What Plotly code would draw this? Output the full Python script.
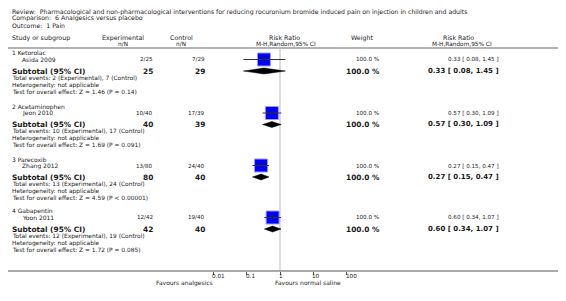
import math
import plotly.graph_objects as go

# ---------------- data ----------------
groups = ["1 Ketorolac", "2 Acetaminophen", "3 Parecoxib", "4 Gabapentin"]
studies = ["Asida 2009", "Jeon 2010", "Zhang 2012", "Yoon 2011"]
exp_events = [2, 10, 13, 12]
exp_total = [25, 40, 80, 42]
ctl_events = [7, 17, 24, 19]
ctl_total = [29, 39, 40, 40]
rr = [0.33, 0.57, 0.27, 0.60]
rr_lo = [0.08, 0.30, 0.15, 0.34]
rr_hi = [1.45, 1.09, 0.47, 1.07]
weights = [100.0, 100.0, 100.0, 100.0]
z_vals = [1.46, 1.69, 4.59, 1.72]
p_text = ["P = 0.14", "P = 0.091", "P < 0.00001", "P = 0.085"]
null_value = 1
tick_vals = [0.01, 0.1, 1, 10, 100]
tick_text = ["0.01", "0.1", "1", "10", "100"]

title_lines = [
    "Review:  Pharmacological and non-pharmacological interventions for reducing rocuronium bromide induced pain on injection in children and adults",
    "Comparison:  6 Analgesics versus placebo",
    "Outcome:  1 Pain",
]

# ---------------- layout helpers ----------------
W, H = 566, 301
OFF = 8  # page body margin
FONT = "DejaVu Sans"
TXT = "#1a1a1a"

group_y = [53, 106.5, 159, 211]
off_study, off_sub, off_tot, off_het, off_test = 6.5, 18.0, 25.3, 32.0, 38.5
AXIS_Y = 271
HEAD_LINE_Y = 48

ax_left, ax_right = 213.3, 346.7

def px(x):
    return (x - OFF) / W

def py(y):
    return 1 - (y - OFF) / H

def yv(y):
    return y - OFF

annotations = []

def txt(x, y, s, size=6, bold=False, anchor="left", color=TXT):
    if bold:
        s = "<b>" + s + "</b>"
    annotations.append(dict(
        x=px(x), y=py(y), xref="paper", yref="paper", text=s, showarrow=False,
        xanchor=anchor, yanchor="middle", align=anchor, borderpad=0, borderwidth=0,
        font=dict(family=FONT, size=size, color=color),
    ))

for i, line in enumerate(title_lines):
    txt(12, 11.5 + i * 7.0, line, size=6.2)

txt(12, 38, "Study or subgroup", size=6.3)
txt(122.5, 38, "Experimental", size=6.3, anchor="center")
txt(122.5, 44, "n/N", size=5.8, anchor="center")
txt(181, 38, "Control", size=6.3, anchor="center")
txt(180.5, 44, "n/N", size=5.8, anchor="center")
txt(284, 38, "Risk Ratio", size=6.3, anchor="center")
txt(286, 44, "M-H,Random,95% CI", size=5.8, anchor="center")
txt(362, 38, "Weight", size=6.3, anchor="center")
txt(458, 38, "Risk Ratio", size=6.3, anchor="center")
txt(462, 44, "M-H,Random,95% CI", size=5.8, anchor="center")

fig = go.Figure()

# null line (below everything)
fig.add_trace(go.Scatter(
    x=[null_value, null_value], y=[yv(HEAD_LINE_Y + 1), yv(AXIS_Y)], mode="lines",
    line=dict(color="#dddddd", width=2), hoverinfo="skip", showlegend=False))

for i in range(len(groups)):
    g = group_y[i]
    ys, ysub = g + off_study, g + off_sub
    txt(12, g, groups[i], size=6)
    txt(22, ys, studies[i], size=6)
    txt(153, ys, f"{exp_events[i]}/{exp_total[i]}", size=5.6, anchor="right")
    txt(205, ys, f"{ctl_events[i]}/{ctl_total[i]}", size=5.6, anchor="right")
    txt(379, ys, f"{weights[i]:.1f} %", size=5.6, anchor="right")
    txt(499, ys, f"{rr[i]:.2f} [ {rr_lo[i]:.2f}, {rr_hi[i]:.2f} ]", size=5.6, anchor="right")

    txt(12, ysub, "Subtotal (95% CI)", size=7.4, bold=True)
    txt(153, ysub, f"{exp_total[i]}", size=7.4, bold=True, anchor="right")
    txt(205, ysub, f"{ctl_total[i]}", size=7.4, bold=True, anchor="right")
    txt(380, ysub, f"{weights[i]:.1f} %", size=7.4, bold=True, anchor="right")
    txt(499, ysub, f"{rr[i]:.2f} [ {rr_lo[i]:.2f}, {rr_hi[i]:.2f} ]", size=7.0, bold=True, anchor="right")

    txt(12, g + off_tot, f"Total events: {exp_events[i]} (Experimental), {ctl_events[i]} (Control)", size=5.9)
    txt(12, g + off_het, "Heterogeneity: not applicable", size=5.9)
    txt(12, g + off_test, f"Test for overall effect: Z = {z_vals[i]:.2f} ({p_text[i]})", size=5.9)

    yy, yd = yv(ys), yv(ysub)
    fig.add_trace(go.Scatter(
        x=[rr[i]], y=[yy], mode="markers",
        marker=dict(symbol="square", size=13, color="#0000ff",
                    line=dict(color="#9a9aff", width=1)),
        hoverinfo="skip", showlegend=False))
    fig.add_trace(go.Scatter(
        x=[rr_lo[i], rr_hi[i]], y=[yy, yy], mode="lines",
        line=dict(color="#333333", width=1), hoverinfo="skip", showlegend=False))
    fig.add_trace(go.Scatter(
        x=[rr[i]], y=[yy], mode="markers",
        marker=dict(symbol="line-ns", size=4, line=dict(color="#222222", width=1)),
        hoverinfo="skip", showlegend=False))
    fig.add_trace(go.Scatter(
        x=[rr_lo[i], rr[i], rr_hi[i], rr[i], rr_lo[i]],
        y=[yd, yd - 3, yd, yd + 3, yd],
        mode="lines", fill="toself", fillcolor="#000000",
        line=dict(color="#000000", width=0.5), hoverinfo="skip", showlegend=False))

# tick labels, left-aligned at each tick
for v, t in zip(tick_vals, tick_text):
    annotations.append(dict(
        x=math.log10(v), xref="x", y=py(276), yref="paper", text=t, showarrow=False,
        xanchor="left", yanchor="middle", xshift=-1, borderpad=0, borderwidth=0,
        font=dict(family=FONT, size=5.7, color=TXT)))

txt(213, 282.5, "Favours analgesics", size=6, anchor="right")
txt(275, 282.5, "Favours normal saline", size=6, anchor="left")

shapes = [
    dict(type="line", xref="paper", yref="y", x0=0, x1=1,
         y0=yv(HEAD_LINE_Y), y1=yv(HEAD_LINE_Y),
         line=dict(color="#999999", width=1.5)),
    dict(type="line", xref="paper", yref="y", x0=0, x1=1,
         y0=yv(AXIS_Y), y1=yv(AXIS_Y),
         line=dict(color="#555555", width=1)),
]

fig.update_layout(
    width=W, height=H,
    margin=dict(l=0, r=0, t=0, b=0),
    paper_bgcolor="white", plot_bgcolor="white",
    showlegend=False,
    xaxis=dict(type="log", range=[-2, 2], domain=[px(ax_left), px(ax_right)],
               anchor="free", position=py(AXIS_Y),
               tickvals=tick_vals, showticklabels=False, ticks="outside",
               ticklen=3, tickwidth=1, tickcolor="#555555",
               showgrid=False, zeroline=False, showline=False, fixedrange=True),
    yaxis=dict(range=[H, 0], domain=[0, 1], visible=False, fixedrange=True),
    annotations=annotations,
    shapes=shapes,
)

fig.write_html("out.html")
